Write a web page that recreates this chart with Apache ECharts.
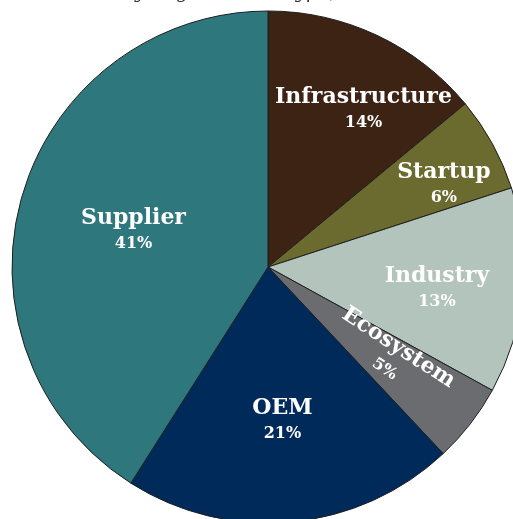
<!DOCTYPE html>
<html>
<head>
<meta charset="utf-8">
<script src="https://cdn.jsdelivr.net/npm/echarts@6/dist/echarts.min.js"></script>
<style>
  html, body { margin: 0; padding: 0; background: #fff; }
  #chart { width: 513px; height: 519px; }
</style>
</head>
<body>
<div id="chart"></div>
<script>
// data
var categories = ['Infrastructure', 'Startup', 'Industry', 'Ecosystem', 'OEM', 'Supplier'];
var shares = [14, 6, 13, 5, 21, 41];
var colors = ['#3c2314', '#6b6b2f', '#b2c4bc', '#6b6c6f', '#002a5a', '#2e787d'];

// label placement: fraction of radius, angle nudge (deg)
var labelRadius = [0.72, 0.76, 0.665, 0.6, 0.6, 0.545];
var labelNudge = [6, 3.5, 1.7, -1.5, 0, -0.8];

var cx = 268, cy = 267, R = 256;

var total = shares.reduce(function (a, b) { return a + b; }, 0);
var midAngles = [];
var acc = 0;
shares.forEach(function (v) {
    midAngles.push((acc + v / 2) / total * 360);
    acc += v;
});

var chart = echarts.init(document.getElementById('chart'));

var option = {
    animation: false,
    title: {
        text: 'by Organization Type, 2023',
        left: 'center',
        top: -21,
        textStyle: {
            fontFamily: 'DejaVu Serif',
            fontStyle: 'italic',
            fontWeight: 'normal',
            fontSize: 19,
            color: '#333'
        }
    },
    series: [{
        type: 'pie',
        center: [cx, cy],
        radius: [0, R],
        startAngle: 90,
        clockwise: true,
        avoidLabelOverlap: false,
        itemStyle: { borderColor: '#1e1e1e', borderWidth: 1 },
        label: {
            show: true,
            position: 'inside',
            formatter: function (p) { return '{n|' + p.name + '}\n{p|' + p.value + '%}'; },
            rich: {
                n: { fontFamily: 'DejaVu Serif', fontWeight: 'bold', fontSize: 22, color: '#fff', lineHeight: 27 },
                p: { fontFamily: 'DejaVu Serif', fontWeight: 'bold', fontSize: 16, color: '#fff', lineHeight: 24 }
            }
        },
        labelLine: { show: false },
        labelLayout: function (params) {
            var i = params.dataIndex;
            var a = (midAngles[i] + labelNudge[i]) * Math.PI / 180;
            var r = labelRadius[i] * R;
            return {
                x: cx + r * Math.sin(a),
                y: cy - r * Math.cos(a),
                align: 'center',
                verticalAlign: 'middle'
            };
        },
        data: categories.map(function (name, i) {
            var item = { name: name, value: shares[i], itemStyle: { color: colors[i] } };
            if (name === 'Ecosystem') item.label = { rotate: -33 };
            return item;
        })
    }]
};

chart.setOption(option);
</script>
</body>
</html>
